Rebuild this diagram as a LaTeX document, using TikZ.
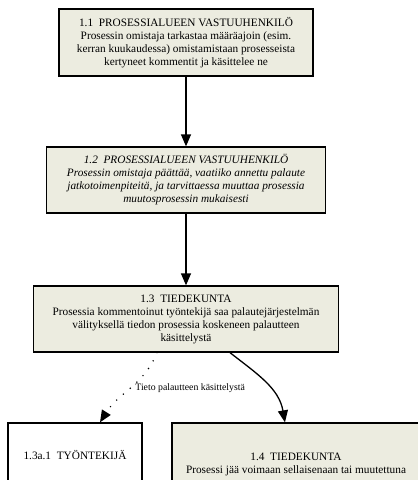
\documentclass[tikz,border=0pt]{standalone}
\usepackage{fontspec}
\setmainfont{Liberation Serif}
\usetikzlibrary{arrows.meta}
\definecolor{stepfill}{RGB}{236,236,224}
\begin{document}
\begin{tikzpicture}[x=1pt, y=-1pt,
    box/.style={draw, line width=1.3pt, fill=stepfill, align=center, inner sep=0pt,
        font=\fontsize{11.3}{13}\selectfont},
    flow/.style={line width=1.3pt, -{Triangle[length=12pt, width=10pt]}},
    info/.style={line width=1.6pt, line cap=round, dash pattern=on 0pt off 9pt,
        -{Triangle[length=12pt, width=10pt]}}]
    \useasboundingbox (0,0) rectangle (418,480);
    \clip (0,0) rectangle (418,480);

    % Process steps
    \node[box, minimum width=254pt, minimum height=67pt] (p11) at (186,42.5)
        {1.1~ PROSESSIALUEEN VASTUUHENKILÖ\\Prosessin omistaja tarkastaa määräajoin (esim.\\
         kerran kuukaudessa) omistamistaan prosesseista\\kertyneet kommentit ja käsittelee ne};
    \node[box, font=\fontsize{11.3}{13}\selectfont\itshape, minimum width=279pt, minimum height=66pt]
        (p12) at (186,180)
        {1.2~ PROSESSIALUEEN VASTUUHENKILÖ\\Prosessin omistaja päättää, vaatiiko annettu palaute\\
         jatkotoimenpiteitä, ja tarvittaessa muuttaa prosessia\\muutosprosessin mukaisesti};
    \node[box, minimum width=305pt, minimum height=66pt] (p13) at (186,319)
        {1.3~ TIEDEKUNTA\\Prosessia kommentoinut työntekijä saa palautejärjestelmän\\
         välityksellä tiedon prosessia koskeneen palautteen\\käsittelystä};

    % Outcomes (cut by the lower edge)
    \node[box, fill=white, minimum width=134pt, minimum height=82pt] (p13a) at (75,464)
        {1.3a.1~ TYÖNTEKIJÄ\\[6pt]};
    \node[box, minimum width=248pt, minimum height=82pt] (p14) at (296,464)
        {1.4~ TIEDEKUNTA\\Prosessi jää voimaan sellaisenaan tai muutettuna};

    % Connectors
    \draw[flow] (p11.south) -- (p12.north);
    \draw[flow] (p12.south) -- (p13.north);
    \draw[info] ([xshift=-29pt]p13.south) to[out=-112, in=58]
        node[pos=0.5, right, inner sep=4pt, font=\fontsize{9.8}{11}\selectfont]
        {Tieto palautteen käsittelystä} ([xshift=25pt]p13a.north);
    \draw[flow] ([xshift=44pt]p13.south) to[out=-38, in=100] ([xshift=-11pt]p14.north);
\end{tikzpicture}
\end{document}
